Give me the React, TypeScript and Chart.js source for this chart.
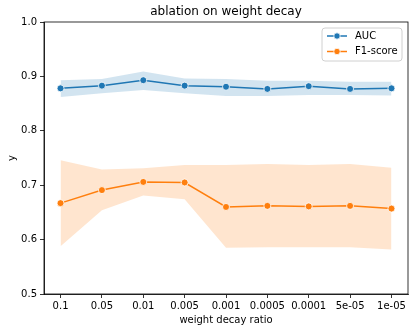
import React, { useEffect, useRef } from "react";
import { Chart, registerables } from "chart.js";

Chart.register(...registerables);

const labels = ["0.1", "0.05", "0.01", "0.005", "0.001", "0.0005", "0.0001", "5e-05", "1e-05"];
const aucMean = [0.878, 0.883, 0.893, 0.883, 0.881, 0.877, 0.882, 0.877, 0.878];
const aucLow = [0.862, 0.869, 0.875, 0.869, 0.864, 0.864, 0.866, 0.866, 0.865];
const aucHigh = [0.893, 0.895, 0.909, 0.896, 0.895, 0.892, 0.892, 0.890, 0.890];
const f1Mean = [0.667, 0.691, 0.706, 0.705, 0.660, 0.662, 0.661, 0.662, 0.657];
const f1Low = [0.588, 0.654, 0.681, 0.674, 0.585, 0.586, 0.586, 0.586, 0.582];
const f1High = [0.746, 0.729, 0.731, 0.737, 0.737, 0.739, 0.737, 0.739, 0.732];
const yTicks = [0.5, 0.6, 0.7, 0.8, 0.9, 1.0];

const titleText = "ablation on weight decay";
const xLabel = "weight decay ratio";
const yLabel = "y";
const seriesNames = ["AUC", "F1-score"];
const BLUE = "#1f77b4";
const ORANGE = "#ff7f0e";
const FONT = "'DejaVu Sans', sans-serif";

const pts = (arr: number[]) => arr.map((v, i) => ({ x: i, y: v }));

const decorPlugin = {
  id: "decor",
  afterDraw(chart: any) {
    const ctx = chart.ctx;
    const a = chart.chartArea;
    ctx.save();
    // frame
    ctx.strokeStyle = "#000";
    ctx.lineWidth = 0.8;
    ctx.strokeRect(a.left, a.top, a.right - a.left, a.bottom - a.top);
    // title
    ctx.fillStyle = "#000";
    ctx.textAlign = "center";
    ctx.textBaseline = "middle";
    ctx.font = `12px ${FONT}`;
    const cx = (a.left + a.right) / 2;
    ctx.fillText(titleText, cx, 12);
    ctx.font = `10px ${FONT}`;
    ctx.fillText(xLabel, cx, 320);
    ctx.save();
    ctx.translate(12, (a.top + a.bottom) / 2);
    ctx.rotate(-Math.PI / 2);
    ctx.fillText(yLabel, 0, 0);
    ctx.restore();
    // legend
    const lx = 322, ly = 28, lw = 80, lh = 33, r = 3;
    ctx.beginPath();
    ctx.moveTo(lx + r, ly);
    ctx.lineTo(lx + lw - r, ly);
    ctx.quadraticCurveTo(lx + lw, ly, lx + lw, ly + r);
    ctx.lineTo(lx + lw, ly + lh - r);
    ctx.quadraticCurveTo(lx + lw, ly + lh, lx + lw - r, ly + lh);
    ctx.lineTo(lx + r, ly + lh);
    ctx.quadraticCurveTo(lx, ly + lh, lx, ly + lh - r);
    ctx.lineTo(lx, ly + r);
    ctx.quadraticCurveTo(lx, ly, lx + r, ly);
    ctx.closePath();
    ctx.fillStyle = "rgba(255,255,255,0.8)";
    ctx.fill();
    ctx.strokeStyle = "#d0d0d0";
    ctx.lineWidth = 1;
    ctx.stroke();
    const rows = [
      { name: seriesNames[0], color: BLUE, y: 36 },
      { name: seriesNames[1], color: ORANGE, y: 51.5 },
    ];
    rows.forEach((row) => {
      ctx.strokeStyle = row.color;
      ctx.lineWidth = 1.5;
      ctx.beginPath();
      ctx.moveTo(327, row.y);
      ctx.lineTo(347, row.y);
      ctx.stroke();
      ctx.beginPath();
      ctx.arc(337, row.y, 3.2, 0, Math.PI * 2);
      ctx.fillStyle = row.color;
      ctx.fill();
      ctx.strokeStyle = "#fff";
      ctx.lineWidth = 0.8;
      ctx.stroke();
      ctx.fillStyle = "#000";
      ctx.textAlign = "left";
      ctx.textBaseline = "middle";
      ctx.font = `10px ${FONT}`;
      ctx.fillText(row.name, 355, row.y);
    });
    ctx.restore();
  },
};

export default function App() {
  const ref = useRef<HTMLCanvasElement>(null);
  useEffect(() => {
    if (!ref.current) return;
    const lineDs = (data: number[], color: string) => ({
      data: pts(data),
      borderColor: color,
      backgroundColor: color,
      borderWidth: 1.5,
      pointRadius: 3.5,
      pointBorderColor: "#fff",
      pointBorderWidth: 0.8,
      pointBackgroundColor: color,
      fill: false,
      tension: 0,
    });
    const bandDs = (data: number[], fill: any, bg: string) => ({
      data: pts(data),
      borderColor: "rgba(0,0,0,0)",
      borderWidth: 0,
      pointRadius: 0,
      backgroundColor: bg,
      fill,
      tension: 0,
    });
    const chart = new Chart(ref.current, {
      type: "line",
      data: {
        datasets: [
          lineDs(aucMean, BLUE),
          lineDs(f1Mean, ORANGE),
          bandDs(aucLow, false, "rgba(31,119,180,0.2)"),
          bandDs(aucHigh, "-1", "rgba(31,119,180,0.2)"),
          bandDs(f1Low, false, "rgba(255,127,14,0.2)"),
          bandDs(f1High, "-1", "rgba(255,127,14,0.2)"),
        ] as any,
      },
      options: {
        animation: false,
        responsive: false,
        layout: { padding: { top: 22, right: 7, left: 0, bottom: 0 } },
        plugins: { legend: { display: false }, tooltip: { enabled: false }, title: { display: false } },
        scales: {
          x: {
            type: "linear",
            min: -0.4,
            max: 8.4,
            afterBuildTicks: (s: any) => {
              s.ticks = labels.map((_, i) => ({ value: i }));
            },
            afterFit: (s: any) => {
              s.height = 38;
            },
            ticks: {
              callback: (v: any) => labels[Math.round(Number(v))],
              color: "#000",
              font: { family: FONT, size: 10 },
              padding: 2,
              maxRotation: 0,
              autoSkip: false,
            },
            grid: { drawOnChartArea: false, drawTicks: true, tickLength: 4, color: "#000", lineWidth: 0.8 },
            border: { display: true, color: "#000", width: 0.8 },
          },
          y: {
            type: "linear",
            min: 0.5,
            max: 1.0,
            afterBuildTicks: (s: any) => {
              s.ticks = yTicks.map((v) => ({ value: v }));
            },
            afterFit: (s: any) => {
              s.width = 44;
            },
            ticks: {
              callback: (v: any) => Number(v).toFixed(1),
              color: "#000",
              font: { family: FONT, size: 10 },
              padding: 3,
            },
            grid: { drawOnChartArea: false, drawTicks: true, tickLength: 4, color: "#000", lineWidth: 0.8 },
            border: { display: true, color: "#000", width: 0.8 },
          },
        },
      },
      plugins: [decorPlugin],
    } as any);
    return () => chart.destroy();
  }, []);
  return (
    <div style={{ position: "absolute", left: 0, top: 0, width: 415, height: 332, background: "#fff" }}>
      <canvas ref={ref} width={415} height={332} />
    </div>
  );
}
